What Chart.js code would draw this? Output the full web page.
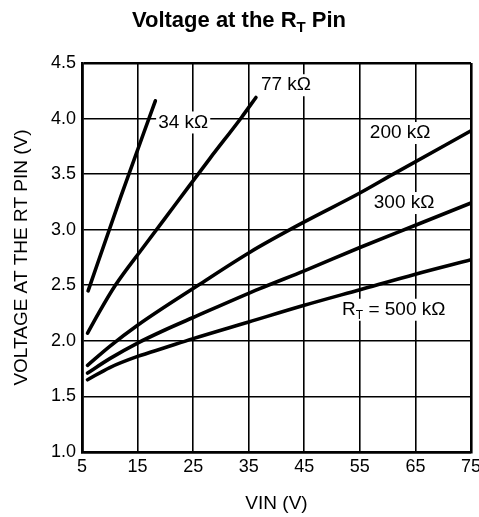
<!DOCTYPE html>
<html>
<head>
<meta charset="utf-8">
<script src="https://cdn.jsdelivr.net/npm/chart.js@4/dist/chart.umd.min.js"></script>
<style>
  html, body { margin: 0; padding: 0; background: #fff; }
  #wrap { width: 479px; height: 517px; position: relative; }
</style>
</head>
<body>
<div id="wrap"><canvas id="c" width="479" height="517"></canvas></div>
<script>
// Input voltage (V) and RT pin voltage (V) for each timing resistor
const vin34  = [6.1, 12, 18.2];
const vrt34  = [2.45, 3.3, 4.16];

const vin77  = [6, 8, 11, 16, 22, 28, 33.7, 36.3];
const vrt77  = [2.07, 2.25, 2.5, 2.84, 3.24, 3.64, 4.01, 4.19];

const vin200 = [6, 10, 15, 25.9, 35.3, 45, 55, 61, 75];
const vrt200 = [1.78, 1.95, 2.14, 2.5, 2.8, 3.07, 3.33, 3.5, 3.89];

const vin300 = [6, 10, 15, 20, 25, 37, 45, 55, 65, 75];
const vrt300 = [1.71, 1.84, 1.98, 2.1, 2.21, 2.47, 2.63, 2.84, 3.04, 3.24];

const vin500 = [6, 10, 15, 20, 25, 35, 45, 55, 65, 75];
const vrt500 = [1.65, 1.76, 1.86, 1.94, 2.02, 2.17, 2.32, 2.46, 2.6, 2.73];

const seriesNames = ['34 kΩ', '77 kΩ', '200 kΩ', '300 kΩ', '500 kΩ'];
const xTicks = [5, 15, 25, 35, 45, 55, 65, 75];
const yTicks = [1.0, 1.5, 2.0, 2.5, 3.0, 3.5, 4.0, 4.5];

const FONT = "'Liberation Sans', Arial, Helvetica, sans-serif";

function pts(xs, ys) { return xs.map((x, i) => ({ x: x, y: ys[i] })); }

const seriesData = [
  pts(vin34, vrt34), pts(vin77, vrt77), pts(vin200, vrt200),
  pts(vin300, vrt300), pts(vin500, vrt500)
];

// Curve labels, placed in data units (VIN, V); text pieces flagged as subscript or not
const curveLabels = [
  { at: [18.7, 3.965], parts: [['34 kΩ', false]] },
  { at: [37.2, 4.30],  parts: [['77 kΩ', false]] },
  { at: [56.8, 3.87],  parts: [['200 kΩ', false]] },
  { at: [57.5, 3.24],  parts: [['300 kΩ', false]] },
  { at: [51.8, 2.28],  parts: [['R', false], ['T', true], [' = 500 kΩ', false]] }
];

const annotate = {
  id: 'annotate',
  afterDraw(chart) {
    const ctx = chart.ctx;
    const xs = chart.scales.x, ys = chart.scales.y;
    ctx.save();
    // curve labels on white boxes
    ctx.textBaseline = 'middle';
    ctx.textAlign = 'left';
    curveLabels.forEach(l => {
      const px = xs.getPixelForValue(l.at[0]);
      const py = ys.getPixelForValue(l.at[1]);
      let w = 0;
      l.parts.forEach(p => {
        ctx.font = (p[1] ? '12px ' : '19px ') + FONT;
        w += ctx.measureText(p[0]).width;
      });
      ctx.fillStyle = '#fff';
      ctx.fillRect(px - 2, py - 11, w + 4, 22);
      ctx.fillStyle = '#000';
      let cx = px;
      l.parts.forEach(p => {
        ctx.font = (p[1] ? '12px ' : '19px ') + FONT;
        ctx.fillText(p[0], cx, p[1] ? py + 6 : py);
        cx += ctx.measureText(p[0]).width;
      });
    });
    // chart title with subscript
    const tParts = [['Voltage at the R', false], ['T', true], [' Pin', false]];
    let tw = 0;
    tParts.forEach(p => {
      ctx.font = 'bold ' + (p[1] ? '15px ' : '22px ') + FONT;
      tw += ctx.measureText(p[0]).width;
    });
    let tx = 239 - tw / 2;
    ctx.textBaseline = 'alphabetic';
    tParts.forEach(p => {
      ctx.font = 'bold ' + (p[1] ? '15px ' : '22px ') + FONT;
      ctx.fillText(p[0], tx, p[1] ? 32 : 27);
      tx += ctx.measureText(p[0]).width;
    });
    ctx.restore();
  }
};

const lastIdx = (arr) => arr.length - 1;

new Chart(document.getElementById('c'), {
  type: 'line',
  data: {
    datasets: seriesData.map((d, i) => ({
      label: seriesNames[i],
      data: d,
      borderColor: '#000',
      backgroundColor: '#000',
      borderWidth: 3.6,
      borderCapStyle: 'round',
      borderJoinStyle: 'round',
      pointRadius: 0,
      cubicInterpolationMode: 'monotone',
      fill: false
    }))
  },
  options: {
    responsive: false,
    animation: false,
    devicePixelRatio: 1,
    layout: { padding: { top: 63, right: 8, left: 0, bottom: 0 } },
    plugins: { legend: { display: false }, tooltip: { enabled: false }, title: { display: false } },
    scales: {
      x: {
        type: 'linear',
        min: 5, max: 75,
        afterBuildTicks: (s) => { s.ticks = xTicks.map(v => ({ value: v })); },
        afterFit: (s) => { s.height = 65; s.paddingLeft = 0; s.paddingRight = 0; },
        ticks: { color: '#000', font: { family: FONT, size: 18 }, padding: 4, maxRotation: 0, autoSkip: false },
        grid: {
          color: '#000', drawTicks: false,
          lineWidth: (c) => (c.index === 0 || c.index === lastIdx(xTicks)) ? 2.6 : 1.6
        },
        border: { display: true, color: '#000', width: 2.6 },
        title: { display: true, text: 'VIN (V)', color: '#000', font: { family: FONT, size: 19 }, padding: { top: 0, bottom: 2 } }
      },
      y: {
        type: 'linear',
        min: 1, max: 4.5,
        afterBuildTicks: (s) => { s.ticks = yTicks.map(v => ({ value: v })); },
        afterFit: (s) => { s.width = 82; s.paddingTop = 0; s.paddingBottom = 0; },
        ticks: { color: '#000', font: { family: FONT, size: 18 }, padding: 6, callback: (v) => Number(v).toFixed(1) },
        grid: {
          color: '#000', drawTicks: false,
          lineWidth: (c) => (c.index === 0 || c.index === lastIdx(yTicks)) ? 2.6 : 1.6
        },
        border: { display: true, color: '#000', width: 2.6 },
        title: { display: true, text: 'VOLTAGE AT THE RT PIN (V)', color: '#000', font: { family: FONT, size: 19 }, padding: { top: 10, bottom: 0 } }
      }
    }
  },
  plugins: [annotate]
});
</script>
</body>
</html>
